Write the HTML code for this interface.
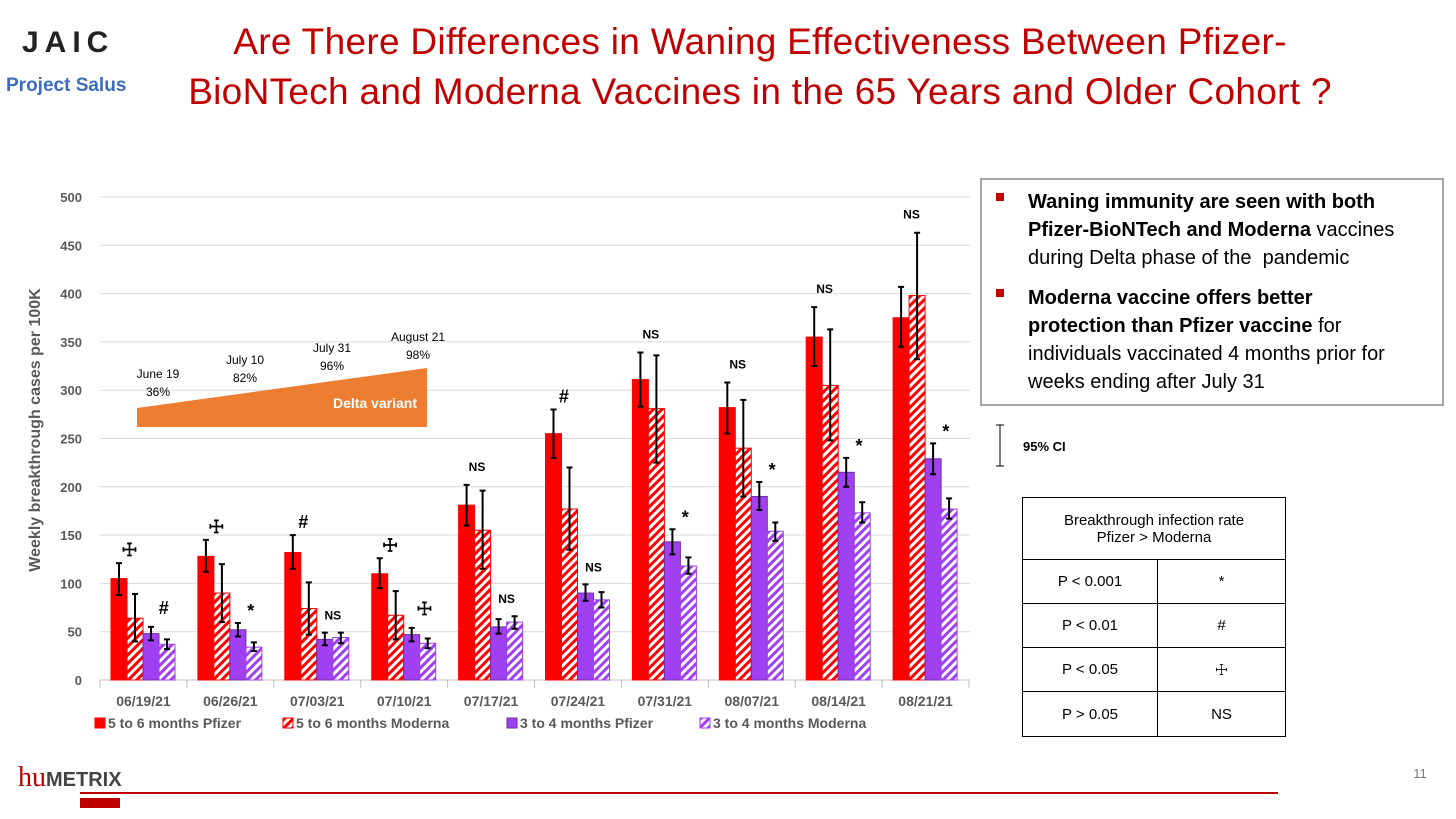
<!DOCTYPE html>
<html><head><meta charset="utf-8"><style>
body{margin:0;width:1456px;height:819px;background:#fff;font-family:"Liberation Sans",sans-serif;overflow:hidden;position:relative}
.t{position:absolute}
</style></head><body>
<div class="t" style="left:22px;top:26px;font:bold 30px 'Liberation Sans',sans-serif;letter-spacing:6px;color:#222">JAIC</div>
<div class="t" style="left:6px;top:75px;font:bold 19px 'Liberation Sans',sans-serif;color:#3B6CC0">Project Salus</div>
<div class="t" style="left:130px;top:17px;width:1260px;text-align:center;font-size:37px;line-height:50px;color:#C00000;letter-spacing:0.3px">Are There Differences in Waning Effectiveness Between Pfizer-<br>BioNTech and Moderna Vaccines in the 65 Years and Older Cohort ?</div>

<svg id="chart" width="1456" height="819" style="position:absolute;left:0;top:0">
<defs>
<pattern id="hr" patternUnits="userSpaceOnUse" width="6" height="6" patternTransform="rotate(45)"><rect width="6" height="6" fill="#fff"/><rect width="3" height="6" fill="#FF0000"/></pattern>
<pattern id="hp" patternUnits="userSpaceOnUse" width="6" height="6" patternTransform="rotate(45)"><rect width="6" height="6" fill="#fff"/><rect width="3" height="6" fill="#A040F0"/></pattern>
</defs>
<g id="grid"></g><g id="bars"></g><g id="errs"></g><g id="ann"></g>
<polygon points="137,408 427,368 427,427 137,427" fill="#ED7D31"/>
<text x="375" y="408" text-anchor="middle" font-size="14" font-weight="bold" fill="#fff">Delta variant</text>
<g font-size="12" text-anchor="middle" fill="#000">
<text x="158" y="378">June 19</text><text x="158" y="396">36%</text>
<text x="245" y="364">July 10</text><text x="245" y="382">82%</text>
<text x="332" y="352">July 31</text><text x="332" y="370">96%</text>
<text x="418" y="341">August 21</text><text x="418" y="359">98%</text>
</g>
<text transform="translate(40,430) rotate(-90)" text-anchor="middle" font-size="16" font-weight="bold" fill="#595959">Weekly breakthrough cases per 100K</text>
<g id="legend" font-size="14" font-weight="bold" fill="#595959"></g>
<line x1="1000" y1="425" x2="1000" y2="466" stroke="#000"/><line x1="996" y1="425" x2="1004" y2="425" stroke="#000"/><line x1="996" y1="466" x2="1004" y2="466" stroke="#000"/>
<text x="1023" y="451" font-size="13" font-weight="bold">95% CI</text>
<line x1="80" y1="793" x2="1278" y2="793" stroke="#C00000" stroke-width="2"/>
<rect x="80" y="798" width="40" height="10" fill="#C00000"/>
<text x="18" y="786" font-size="28" fill="#C00000" font-family="Liberation Serif">hu<tspan font-family="Liberation Sans" font-weight="bold" font-size="20" fill="#444">METRIX</tspan></text>
<text x="1420" y="778" font-size="13" fill="#777" text-anchor="middle">11</text>
</svg>

<div class="t" style="left:980px;top:178px;width:460px;height:224px;border:2px solid #A6A6A6;font-size:20px;line-height:28px;color:#000">
<div style="position:relative;padding:8px 10px 0 46px"><span style="position:absolute;left:14px;top:13px;width:8px;height:8px;background:#C00000"></span><b>Waning immunity are seen with both Pfizer-BioNTech and Moderna</b> vaccines during Delta phase of the&nbsp; pandemic</div>
<div style="position:relative;padding:12px 4px 0 46px"><span style="position:absolute;left:14px;top:17px;width:8px;height:8px;background:#C00000"></span><b>Moderna vaccine offers better<br>protection than Pfizer vaccine</b> for individuals vaccinated 4 months prior for weeks ending after July 31</div>
</div>

<table style="position:absolute;left:1022px;top:497px;width:264px;border-collapse:collapse;font-size:15px;text-align:center">
<tr style="height:62px"><td colspan="2" style="border:1px solid #000">Breakthrough infection rate<br>Pfizer &gt; Moderna</td></tr>
<tr style="height:44px"><td style="border:1px solid #000;width:132px">P &lt; 0.001</td><td style="border:1px solid #000">*</td></tr>
<tr style="height:44px"><td style="border:1px solid #000">P &lt; 0.01</td><td style="border:1px solid #000">#</td></tr>
<tr style="height:44px"><td style="border:1px solid #000">P &lt; 0.05</td><td style="border:1px solid #000">☩</td></tr>
<tr style="height:45px"><td style="border:1px solid #000">P &gt; 0.05</td><td style="border:1px solid #000">NS</td></tr>
</table>

<script>
const categories=["06/19/21","06/26/21","07/03/21","07/10/21","07/17/21","07/24/21","07/31/21","08/07/21","08/14/21","08/21/21"];
const seriesNames=["5 to 6 months Pfizer","5 to 6 months Moderna","3 to 4 months Pfizer","3 to 4 months Moderna"];
const pf56=[105,128,132,110,181,255,311,282,355,375];
const md56=[64,90,74,67,155,177,281,240,305,398];
const pf34=[48,52,42,47,55,90,143,190,215,229];
const md34=[37,34,44,38,60,83,118,154,173,177];
const pf56Hi=[121,145,150,126,202,280,339,308,386,407];
const pf56Lo=[88,112,115,95,160,230,283,255,325,345];
const md56Hi=[89,120,101,92,196,220,336,290,363,463];
const md56Lo=[40,60,47,42,115,135,225,190,248,332];
const pf34Hi=[55,59,49,54,63,99,156,205,230,245];
const pf34Lo=[41,45,36,40,48,82,130,176,200,213];
const md34Hi=[42,39,49,43,66,91,127,163,184,188];
const md34Lo=[32,30,38,33,53,75,110,144,163,167];
const sig56=["☩","☩","#","☩","NS","#","NS","NS","NS","NS"];
const sig34=["#","*","NS","☩","NS","NS","*","*","*","*"];
const yTicks=[0,50,100,150,200,250,300,350,400,450,500];

const NS="http://www.w3.org/2000/svg";
const x0=100,cw=86.9,bw=16,y0=680,ppu=483/500;
const y=v=>y0-v*ppu;
const gx=i=>x0+i*cw+11;
function mk(tag,attrs,parent){const e=document.createElementNS(NS,tag);for(const k in attrs)e.setAttribute(k,attrs[k]);parent.appendChild(e);return e;}
const grid=document.getElementById('grid'),bars=document.getElementById('bars'),errs=document.getElementById('errs'),ann=document.getElementById('ann'),leg=document.getElementById('legend');
yTicks.forEach(t=>{
 const l=mk('line',{x1:x0,x2:970,y1:y(t),y2:y(t),stroke:t===0?'#BFBFBF':'#D9D9D9'},grid);
 
 
 const tx=mk('text',{x:82,y:y(t)+5,'text-anchor':'end','font-size':13,'font-weight':'bold',fill:'#595959'},grid);
 tx.textContent=t;
 
 
});
categories.forEach((c,i)=>{
 mk('line',{x1:x0+i*cw,x2:x0+i*cw,y1:y0,y2:y0+8,stroke:'#BFBFBF'},grid);
 const tx=mk('text',{x:x0+i*cw+cw/2,y:706,'text-anchor':'middle','font-size':14,'font-weight':'bold',fill:'#595959'},grid);
 tx.textContent=c;
 
 
});
mk('line',{x1:x0+10*cw,x2:x0+10*cw,y1:y0,y2:y0+8,stroke:'#BFBFBF'},grid);
const series=[[pf56,pf56Hi,pf56Lo,'#FF0000','#FF0000'],[md56,md56Hi,md56Lo,'url(#hr)','#FF0000'],[pf34,pf34Hi,pf34Lo,'#A040F0','#7030A0'],[md34,md34Hi,md34Lo,'url(#hp)','#A040F0']];
series.forEach((s,k)=>{
 s[0].forEach((v,i)=>{
  const bx=gx(i)+k*bw;
  const r=mk('rect',{x:bx,y:y(v),width:bw,height:v*ppu,fill:s[3],stroke:s[4],'stroke-width':1},bars);
  
  
  const cx=bx+bw/2;
  const e=mk('path',{d:`M${cx},${y(s[1][i])}V${y(s[2][i])}M${cx-3},${y(s[1][i])}h6M${cx-3},${y(s[2][i])}h6`,stroke:'#000','stroke-width':2,fill:'none'},errs);
  
  
 });
});
function note(txt,x,yy){
 const big=txt!=='NS';
 const t=mk('text',{x:x,y:yy,'text-anchor':'middle','font-size':big?18:12,'font-weight':'bold',fill:'#000'},ann);
 t.textContent=txt;
 
 
}
const off=s=>s==='NS'?-12:(s==='*'?-2:-7);
categories.forEach((c,i)=>{
 const top56=Math.max(pf56Hi[i],md56Hi[i]);
 note(sig56[i],gx(i)+bw*1.15,y(top56)+off(sig56[i])-(sig56[i]==='NS'?2:0));
 const top34=Math.max(pf34Hi[i],md34Hi[i]);
 note(sig34[i],gx(i)+bw*(sig34[i]==='NS'?3.0:3.3),y(top34)+(sig34[i]==='*'?-6:-13));
});
const lx=[95,283,507,700];
seriesNames.forEach((n,k)=>{
 mk('rect',{x:lx[k],y:718,width:10,height:10,fill:series[k][3],stroke:series[k][4]},leg);
 const t=mk('text',{x:lx[k]+13,y:728},leg);
 t.textContent=n;
 
 
});
</script>
</body></html>
